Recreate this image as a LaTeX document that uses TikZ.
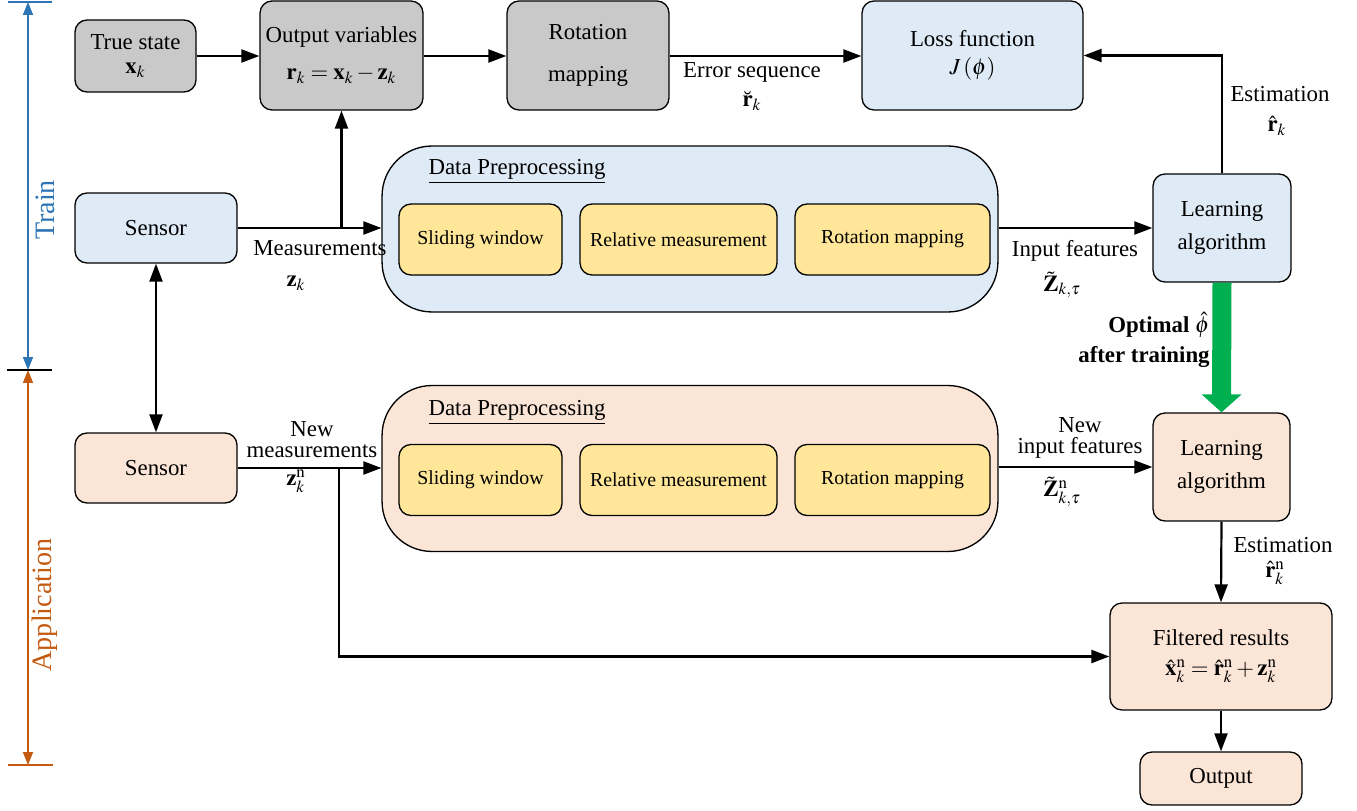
\documentclass[tikz,border=0pt]{standalone}
\usepackage{amssymb}
\usepackage{amsmath}
\usepackage{mathptmx}
\usepackage{fontspec}
\setmainfont{Liberation Serif}
\usetikzlibrary{arrows.meta}
\definecolor{grayfill}{HTML}{C9C9C9}
\definecolor{bluefill}{HTML}{DEEAF6}
\definecolor{peachfill}{HTML}{FBE5D6}
\definecolor{yelfill}{HTML}{FFE699}
\definecolor{optgreen}{HTML}{00B050}
\definecolor{trainblue}{HTML}{2E75B6}
\definecolor{apporange}{HTML}{C55A11}

\begin{document}
\begin{tikzpicture}[x=0.02cm, y=-0.02cm, font=\fontsize{13}{15}\selectfont,
  >={Triangle[length=3.6mm,width=2.6mm]},
  box/.style = {draw, rounded corners=0.24cm, align=center, inner sep=2pt, line width=0.75pt},
  grybox/.style = {box, fill=grayfill},
  blubox/.style = {box, fill=bluefill},
  pchbox/.style = {box, fill=peachfill},
  yelbox/.style = {box, fill=yelfill, minimum height=1.42cm, font=\fontsize{11.3}{13}\selectfont},
  frame/.style = {draw, rounded corners=1cm, line width=0.75pt, minimum width=12.32cm, minimum height=3.32cm},
  conn/.style = {->, line width=1.25pt},
  lbl/.style = {inner sep=0pt, align=center}]
\useasboundingbox (0,0) rectangle (1357,811);

% phase axis
\coordinate (t0) at (28,2);
\coordinate (t1) at (28,370);
\coordinate (t2) at (28,765);
\draw[trainblue, line width=0.9pt, {Triangle[length=2.6mm,width=2mm]}-{Triangle[length=2.6mm,width=2mm]}] (t0) -- (t1);
\draw[apporange, line width=0.9pt, {Triangle[length=2.6mm,width=2mm]}-{Triangle[length=2.6mm,width=2mm]}] (t1) -- (t2);
\draw[trainblue, line width=0.9pt] (8,2) -- (52,2);
\draw[line width=0.9pt] (7,370) -- (52,370);
\draw[apporange, line width=0.9pt] (8,765) -- (53,765);
\node[rotate=90, text=trainblue, font=\fontsize{16}{18}\selectfont] (train) at (45,210) {Train};
\node[rotate=90, text=apporange, font=\fontsize{16}{18}\selectfont] (appl) at (45,605) {Application};

% train branch
\node[grybox, minimum width=2.42cm, minimum height=1.44cm] (true) at (135.5,56) {True state\\[-1pt]$\mathbf{x}_k$};
\node[grybox, minimum width=3.26cm, minimum height=2.18cm] (outv) at (341.5,55.5) {Output variables\\[6pt]$\mathbf{r}_k=\mathbf{x}_k-\mathbf{z}_k$};
\node[grybox, minimum width=3.24cm, minimum height=2.18cm] (rot) at (588,55.5) {Rotation\\[9pt]mapping};
\node[blubox, minimum width=4.42cm, minimum height=2.18cm] (loss) at (972.5,55.5) {Loss function\\[1pt]$J\left(\phi\right)$};
\node[blubox, minimum width=2.76cm, minimum height=2.16cm] (learn1) at (1222,228) {Learning\\[4pt]algorithm};
\node[blubox, minimum width=3.24cm, minimum height=1.4cm] (sens1) at (156,228) {Sensor};

\node[frame, fill=bluefill] (pre1) at (690,229) {};
\node[lbl] (pre1t) at (517,172) {\underline{Data Preprocessing}};
\node[yelbox, minimum width=3.26cm] (win1) at (480.5,239.5) {Sliding window};
\node[yelbox, minimum width=3.94cm] (rel1) at (678.5,239.5) {Relative measurement};
\node[yelbox, minimum width=3.9cm] (rmap1) at (892.5,239.5) {Rotation mapping};

\coordinate (m1) at (sens1.east -| outv.south);
\draw[conn] (true.east) -- (true.east -| outv.west);
\draw[conn] (outv.east |- true.east) -- (true.east -| rot.west);
\draw[conn] (rot.east |- true.east) -- (true.east -| loss.west);
\draw[conn] (learn1.north) |- (loss.east);
\draw[conn] (sens1.east) -- (sens1.east -| pre1.west);
\draw[conn] (m1) -- (outv.south);
\draw[conn] (pre1.east |- learn1.west) -- (learn1.west);

\node[lbl] (errl) at (752,72) {Error sequence};
\node[lbl] (errv) at (752,101) {$\breve{\mathbf{r}}_k$};
\node[lbl] (est1l) at (1280,94) {Estimation};
\node[lbl] (est1v) at (1277,126) {$\hat{\mathbf{r}}_k$};
\node[lbl] (meal) at (320,248) {Measurements};
\node[lbl] (meav) at (296,283) {$\mathbf{z}_k$};
\node[lbl] (infl) at (1075,251) {Input features};
\node[lbl] (infv) at (1062,285) {$\tilde{\mathbf{Z}}_{k,\tau}$};

% application branch
\node[pchbox, minimum width=3.24cm, minimum height=1.4cm] (sens2) at (156,468) {Sensor};
\node[frame, fill=peachfill] (pre2) at (690,468.5) {};
\node[lbl] (pre2t) at (517,413) {\underline{Data Preprocessing}};
\node[yelbox, minimum width=3.26cm] (win2) at (480.5,480) {Sliding window};
\node[yelbox, minimum width=3.94cm] (rel2) at (678.5,480) {Relative measurement};
\node[yelbox, minimum width=3.9cm] (rmap2) at (892.5,480) {Rotation mapping};
\node[pchbox, minimum width=2.74cm, minimum height=2.16cm] (learn2) at (1221.5,467) {Learning\\[4pt]algorithm};
\node[pchbox, minimum width=4.44cm, minimum height=2.14cm] (filt) at (1221,656.5) {Filtered results\\[2pt]$\hat{\mathbf{x}}^{\mathrm{n}}_k=\hat{\mathbf{r}}^{\mathrm{n}}_k+\mathbf{z}^{\mathrm{n}}_k$};
\node[pchbox, minimum width=3.24cm, minimum height=1.06cm] (out) at (1221,778.5) {Output};

\coordinate (m2) at (339,468);
\draw[conn, <->] (sens1.south) -- (sens2.north);
\draw[conn] (sens2.east) -- (sens2.east -| pre2.west);
\draw[conn] (m2) |- (filt.west);
\draw[conn] (pre2.east |- learn2.west) -- (learn2.west);
\draw[conn] (learn2.south) -- (filt.north);
\draw[conn] (filt.south) -- (out.north);
\draw[optgreen, line width=0.38cm, -{Triangle[length=0.36cm,width=0.78cm]}] (learn1.south) -- (learn2.north);

\node[lbl] (nmeal) at (312,440) {New\\[-3pt]measurements};
\node[lbl] (nmeav) at (296,481) {$\mathbf{z}^{\mathrm{n}}_k$};
\node[lbl] (ninfl) at (1080,438) {New\\[-3pt]input features};
\node[lbl] (ninfv) at (1062,492) {$\tilde{\mathbf{Z}}^{\mathrm{n}}_{k,\tau}$};
\node[lbl] (est2l) at (1283,545) {Estimation};
\node[lbl] (est2v) at (1275,573) {$\hat{\mathbf{r}}^{\mathrm{n}}_k$};
\node[lbl, align=right, anchor=east, font=\fontsize{13}{15}\selectfont\bfseries] (optl) at (1210,340) {Optimal $\hat{\phi}$\\[2pt]after training};
\end{tikzpicture}
\end{document}
